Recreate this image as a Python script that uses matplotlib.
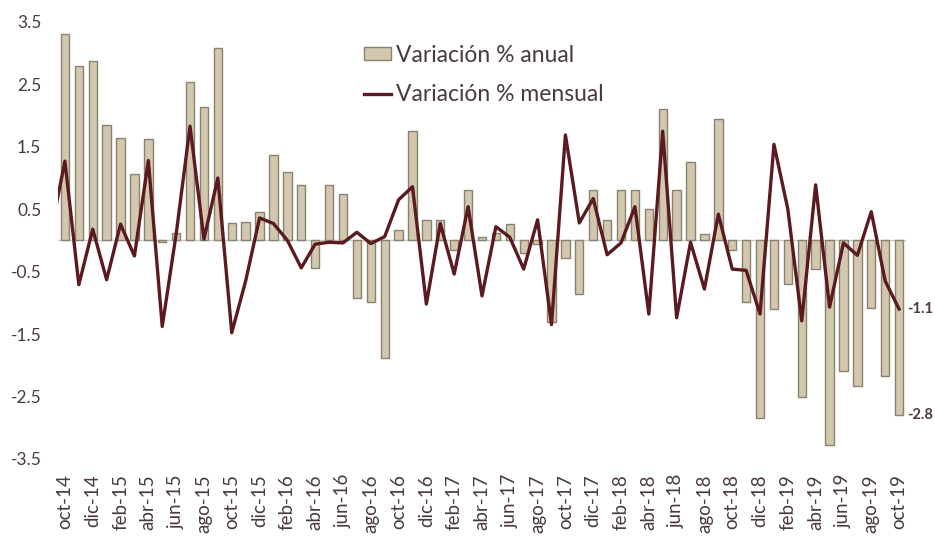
import numpy as np
import matplotlib
matplotlib.use("Agg")
import matplotlib.pyplot as plt

plt.rcParams['font.family'] = ['Lato', 'DejaVu Sans']

# months oct-14 .. oct-19
meses = ['ene', 'feb', 'mar', 'abr', 'may', 'jun',
         'jul', 'ago', 'sep', 'oct', 'nov', 'dic']
periodos = [f"{meses[(9 + i) % 12]}-{14 + (9 + i) // 12}" for i in range(61)]

# annual % change (bars)
var_anual = [3.3, 2.8, 2.88, 1.85, 1.64, 1.06, 1.62, -0.02, 0.12, 2.54,
             2.13, 3.08, 0.28, 0.30, 0.46, 1.37, 1.09, 0.89, -0.44, 0.89,
             0.75, -0.92, -0.98, -1.89, 0.17, 1.76, 0.33, 0.33, -0.15, 0.80,
             0.05, 0.12, 0.27, -0.2, -0.05, -1.3, -0.28, -0.86, 0.80, 0.32,
             0.80, 0.81, 0.51, 2.10, 0.81, 1.26, 0.10, 1.94, -0.16, -0.98,
             -2.85, -1.10, -0.70, -2.51, -0.46, -3.28, -2.10, -2.34, -1.08, -2.18,
             -2.8]

# monthly % change (line), starts one month earlier (sep-14)
var_mensual = [0.15,
               1.27, -0.71, 0.18, -0.63, 0.26, -0.25, 1.28, -1.38, 0.10, 1.83,
               0.02, 1.0, -1.48, -0.65, 0.36, 0.27, 0.0, -0.44, -0.06, -0.03,
               -0.04, 0.13, -0.05, 0.06, 0.65, 0.86, -1.02, 0.27, -0.54, 0.54,
               -0.89, 0.22, 0.05, -0.46, 0.33, -1.35, 1.69, 0.28, 0.67, -0.23,
               -0.04, 0.54, -1.18, 1.75, -1.24, -0.03, -0.78, 0.42, -0.46, -0.48,
               -1.18, 1.54, 0.5, -1.29, 0.89, -1.07, -0.04, -0.24, 0.46, -0.65,
               -1.1]

txt_color = '#4a3a3a'
bar_face = '#d3c7ad'
bar_edge = '#8a8270'
line_color = '#5b1a20'

fig = plt.figure(figsize=(9.35, 5.36), dpi=100)
ax = fig.add_axes([0.062, 0.144, 0.907, 0.815])

x = np.arange(len(periodos))
bars = ax.bar(x, var_anual, width=0.6, color=bar_face, edgecolor=bar_edge,
              linewidth=1.0, label='Variación % anual', zorder=2)
xl = np.arange(-1, len(var_mensual) - 1)
line, = ax.plot(xl, var_mensual, color=line_color, lw=2.4,
                label='Variación % mensual', zorder=3)

ax.axhline(0, color='#c8c8c8', lw=1, zorder=1)

ax.set_xlim(-0.5, len(periodos) - 0.5)
ax.set_ylim(-3.5, 3.5)
yt = np.arange(-3.5, 3.6, 1.0)
ax.set_yticks(yt)
ax.set_yticklabels([f"{v:.1f}" for v in yt])
ax.set_xticks(x[::2])
ax.set_xticklabels(periodos[::2], rotation=90, va='top')

ax.tick_params(axis='both', length=0, colors=txt_color)
ax.tick_params(axis='y', pad=12, labelsize=12.5)
ax.tick_params(axis='x', pad=11, labelsize=13.5)
for s in ax.spines.values():
    s.set_visible(False)

# end labels
ax.annotate(f"{var_mensual[-1]:.1f}", (x[-1], var_mensual[-1]),
            xytext=(6, 0), textcoords='offset points', va='center',
            fontsize=10.5, fontweight='bold', color=txt_color)
ax.annotate(f"{var_anual[-1]:.1f}", (x[-1], var_anual[-1]),
            xytext=(6, 0), textcoords='offset points', va='center',
            fontsize=10.5, fontweight='bold', color=txt_color)

leg = ax.legend([bars, line], ['Variación % anual', 'Variación % mensual'],
                loc='upper left', bbox_to_anchor=(0.336, 0.995), frameon=False,
                fontsize=16.5, handlelength=1.2, handleheight=0.5,
                handletextpad=0.2, labelspacing=0.8)
for t in leg.get_texts():
    t.set_color(txt_color)

fig.savefig('out.png', dpi=100, facecolor='white')
